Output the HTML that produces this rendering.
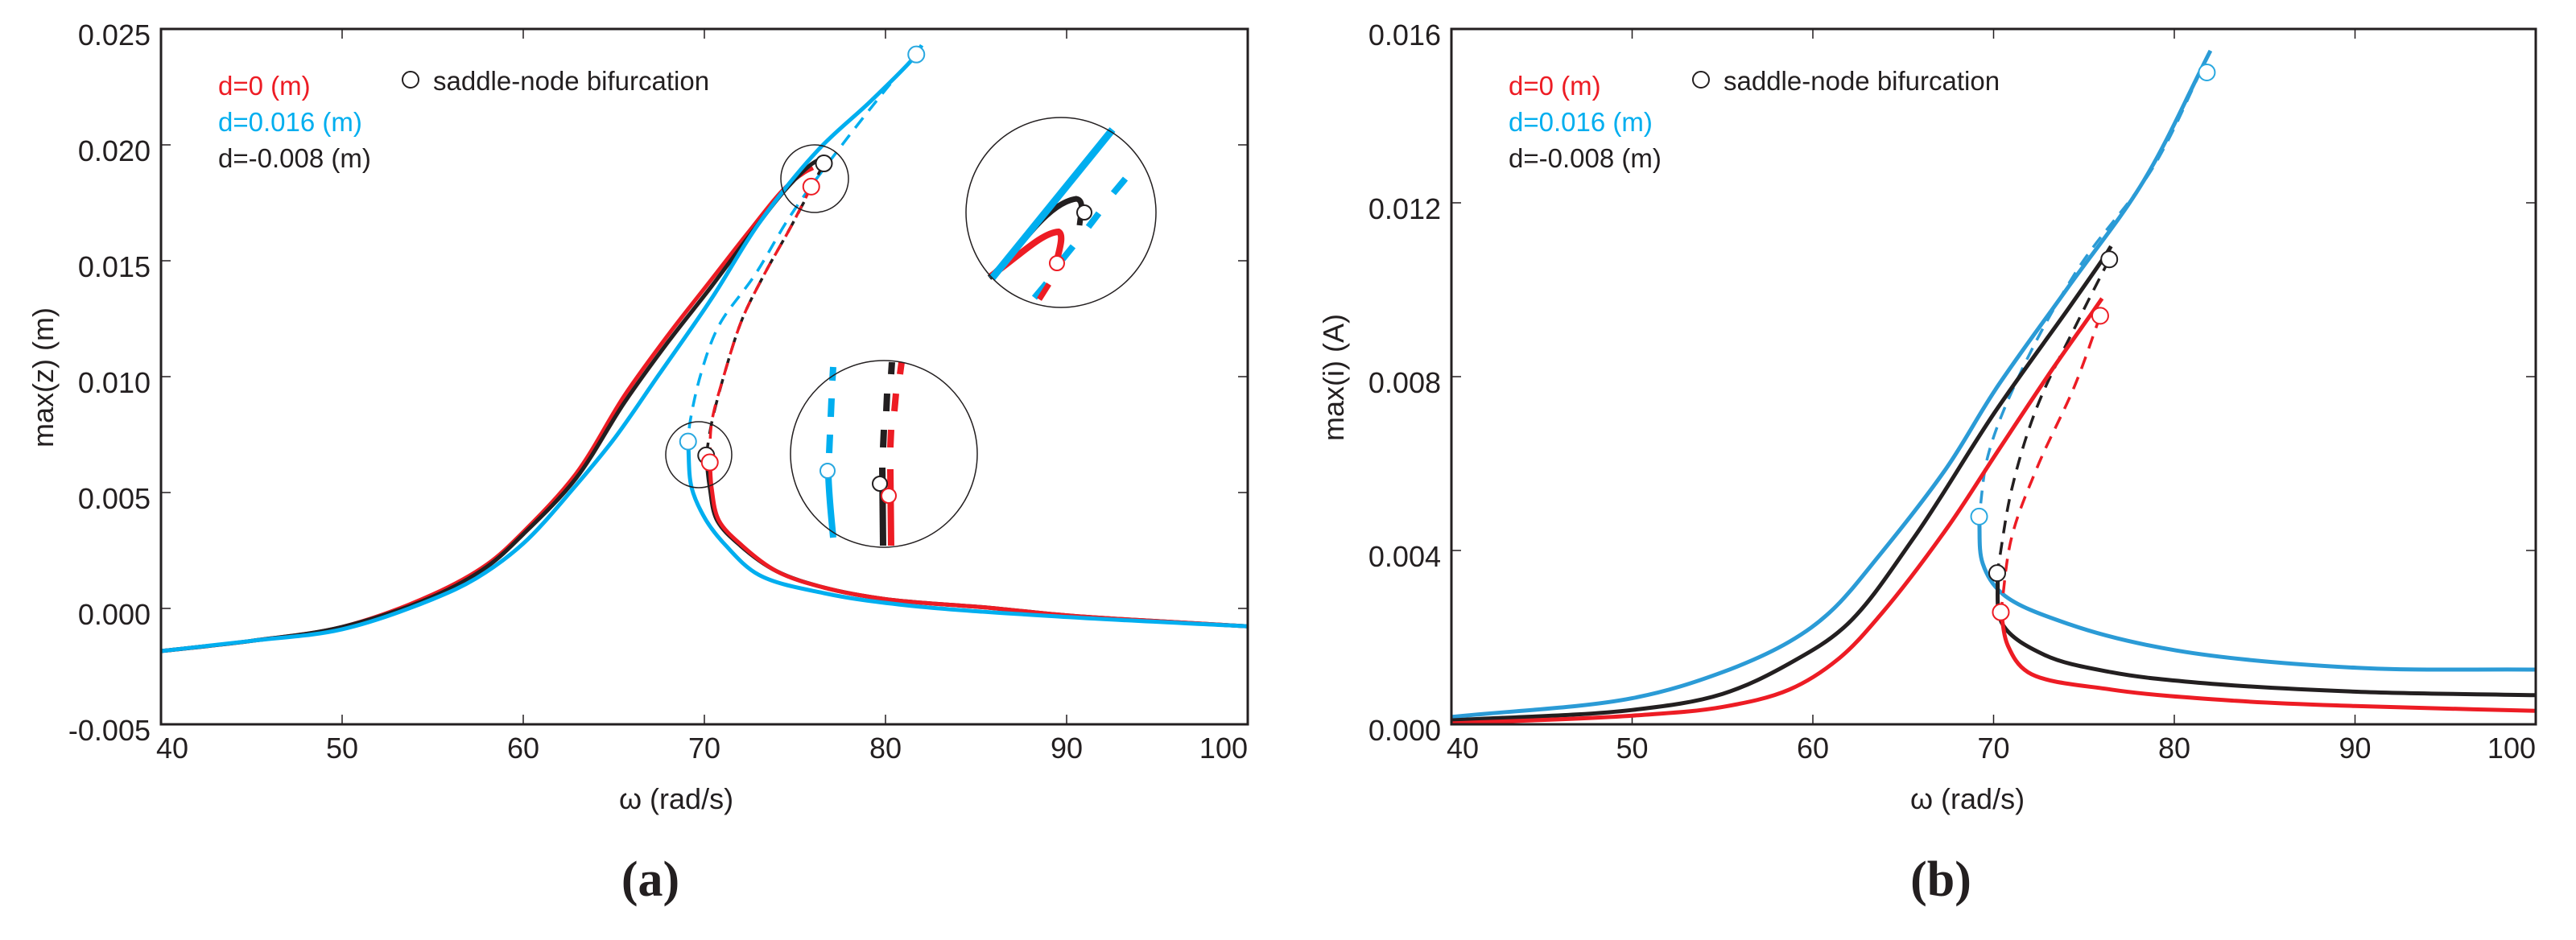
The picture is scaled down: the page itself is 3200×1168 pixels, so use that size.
<!DOCTYPE html>
<html><head><meta charset="utf-8"><style>
html,body{margin:0;padding:0;background:#fff;}
svg{display:block;font-family:"Liberation Sans",Arial,sans-serif;}
</style></head><body>
<svg id="fig" width="3200" height="1168" viewBox="0 0 3200 1168"></svg>
<script>
// ===== Panel (a) data: max(z) (m) vs omega =====
const aTicksX = [40,50,60,70,80,90,100];
const aTicksY = [-0.005,0.000,0.005,0.010,0.015,0.020,0.025];
const aTickLabelsY = ["-0.005","0.000","0.005","0.010","0.015","0.020","0.025"];
// d=0 (red)
const aRedUpX = [40,45,50,55,58,60,62.9,65.6,68,70.4,72.5,74.4,75.5,76.0];
const aRedUpY = [-0.00184,-0.0014,-0.0008,0.0006,0.0019,0.0033,0.0058,0.0092,0.0118,0.0142,0.0163,0.0181,0.0188,0.0190];
const aRedDashX = [75.9,74.8,73.3,72.1,71.1,70.4,70.3];
const aRedDashY = [0.0182,0.0165,0.0144,0.0125,0.0101,0.0080,0.0063];
const aRedLowX = [70.3,70.4,70.8,72.1,74,76.6,80,85.7,90,95,100];
const aRedLowY = [0.0063,0.0052,0.0038,0.0027,0.0016,0.0009,0.0004,0.00003,-0.0003,-0.00055,-0.00077];
// d=0.016 (blue)
const aBlueUpX = [40,45,50,55,57.4,60,62.9,65,67.5,70.4,73,76.3,79.2,81.6,82.0];
const aBlueUpY = [-0.00184,-0.0014,-0.0009,0.0004,0.0013,0.0028,0.0053,0.0073,0.0101,0.01337,0.0166,0.0198,0.0219,0.0238,0.0243];
const aBlueDashX = [81.9,81.0,77.8,74.8,72.8,70.8,69.8,69.2,69.1];
const aBlueDashY = [0.0240,0.0233,0.0202,0.0170,0.0144,0.0122,0.0101,0.0080,0.0072];
const aBlueLowX = [69.1,69.3,70.1,71.2,73,76.6,81.1,90.2,100];
const aBlueLowY = [0.0072,0.0052,0.0038,0.0027,0.00145,0.00066,0.00014,-0.00038,-0.00077];
// d=-0.008 (black)
const aBlackUpX = [40,45,50,55,58,60,62.9,65.6,68,70.4,72.5,74.4,75.8,76.4];
const aBlackUpY = [-0.00184,-0.0014,-0.0008,0.0005,0.0018,0.0032,0.0056,0.0089,0.0115,0.0139,0.0161,0.0180,0.0191,0.0194];
const aBlackDashX = [76.6,74.8,73.3,72.1,71.1,70.4,70.1];
const aBlackDashY = [0.0192,0.0165,0.0144,0.0125,0.0101,0.0080,0.0066];
const aBlackLowX = [70.1,70.3,70.7,72.0,74,76.6,80,85.7,90,95,100];
const aBlackLowY = [0.0066,0.0052,0.0038,0.0027,0.0016,0.0009,0.0004,0.00003,-0.0003,-0.00055,-0.00077];
const aBifX = [75.9,76.6,81.7,69.1,70.1,70.3];
const aBifY = [0.0182,0.0192,0.0239,0.0072,0.0066,0.0063];
const aBifC = ["#ed1c24","#231f20","#29a8e0","#29a8e0","#231f20","#ed1c24"];

// ===== Panel (b) data: max(i) (A) vs omega =====
const bTicksX = [40,50,60,70,80,90,100];
const bTicksY = [0.000,0.004,0.008,0.012,0.016];
const bTickLabelsY = ["0.000","0.004","0.008","0.012","0.016"];
const bRedUpX = [40,50,55,58.7,61.4,63.7,67.4,70.1,73.3,75.5,76.0];
const bRedUpY = [0.00002,0.0002,0.0004,0.0008,0.0015,0.0025,0.0045,0.0062,0.0082,0.0095,0.0098];
const bRedDashX = [75.9,74.5,72.4,71.0,70.4];
const bRedDashY = [0.0094,0.0078,0.0059,0.0043,0.00258];
const bRedLowX = [70.4,70.8,71.9,76.5,83.4,90,100];
const bRedLowY = [0.00258,0.0018,0.0012,0.0008,0.00054,0.00042,0.00031];
const bBlueUpX = [40,50,55,58.7,61,63.7,67.4,70.1,74.2,78.3,82.0];
const bBlueUpY = [0.00017,0.0006,0.0012,0.0019,0.0026,0.0039,0.0059,0.0077,0.0101,0.0125,0.0155];
const bBlueDashX = [82.0,78.8,74.7,71.5,69.7,69.2];
const bBlueDashY = [0.0155,0.0128,0.0105,0.0081,0.0062,0.00478];
const bBlueLowX = [69.2,69.4,70.5,74.2,80.1,90.1,100];
const bBlueLowY = [0.00478,0.0037,0.0030,0.0023,0.0017,0.0013,0.00126];
const bBlackUpX = [40,50,55,58.7,61.9,65.6,70.1,74.2,76.2,76.5];
const bBlackUpY = [0.00009,0.00033,0.0007,0.0014,0.0023,0.0043,0.0072,0.0096,0.0108,0.0110];
const bBlackDashX = [76.4,74.7,72.4,71.0,70.2];
const bBlackDashY = [0.0107,0.0093,0.0073,0.0054,0.00348];
const bBlackLowX = [70.2,70.5,72.8,76.5,81,90.1,100];
const bBlackLowY = [0.00348,0.0023,0.0016,0.0012,0.00097,0.00075,0.00067];
const bBifX = [75.9,76.4,81.8,69.2,70.2,70.4];
const bBifY = [0.0094,0.0107,0.0150,0.00478,0.00348,0.00258];
const bBifC = ["#ed1c24","#231f20","#29a8e0","#29a8e0","#231f20","#ed1c24"];

const NS="http://www.w3.org/2000/svg";
const svg=document.getElementById('fig');
function mk(tag,attrs,parent){const e=document.createElementNS(NS,tag);for(const k in attrs)e.setAttribute(k,attrs[k]);(parent||svg).appendChild(e);return e;}
// centripetal Catmull-Rom -> cubic Bezier
function smooth(pts){
  if(pts.length<2)return '';
  const f=n=>n.toFixed(1);
  let d='M'+f(pts[0][0])+','+f(pts[0][1]);
  const dist=(a,b)=>Math.max(1e-3,Math.pow(Math.hypot(b[0]-a[0],b[1]-a[1]),0.5));
  for(let i=0;i<pts.length-1;i++){
    const p1=pts[i],p2=pts[i+1];
    const p0=pts[i-1]||[2*p1[0]-p2[0],2*p1[1]-p2[1]];
    const p3=pts[i+2]||[2*p2[0]-p1[0],2*p2[1]-p1[1]];
    const d1=dist(p0,p1),d2=dist(p1,p2),d3=dist(p2,p3);
    const c1=[],c2=[];
    for(let k=0;k<2;k++){
      const m1=(p1[k]-p0[k])/d1-(p2[k]-p0[k])/(d1+d2)+(p2[k]-p1[k])/d2;
      const m2=(p2[k]-p1[k])/d2-(p3[k]-p1[k])/(d2+d3)+(p3[k]-p2[k])/d3;
      c1[k]=p1[k]+m1*d2/3;
      c2[k]=p2[k]-m2*d2/3;
    }
    d+='C'+f(c1[0])+','+f(c1[1])+' '+f(c2[0])+','+f(c2[1])+' '+f(p2[0])+','+f(p2[1]);
  }
  return d;
}
function panel(cfg){
  const g=mk('g',{});
  
  
  const X=v=>cfg.x0+(v-40)/60*(cfg.x1-cfg.x0);
  const Y=v=>cfg.y1-(v-cfg.ymin)/(cfg.ymax-cfg.ymin)*(cfg.y1-cfg.y0);
  cfg.tx.forEach((t,i)=>{
    const x=X(t);
    const tk=mk('path',{d:`M${x},${cfg.y1}v-12M${x},${cfg.y0}v12`,stroke:'#231f20','stroke-width':1.5},g);
    
    
    let anchor='middle',xx=x;
    if(i===0){anchor='start';xx=x-6;} if(i===cfg.tx.length-1){anchor='end';xx=x;}
    const lb=mk('text',{x:xx,y:942,'font-size':36,'text-anchor':anchor,fill:'#231f20'},g);
    lb.textContent=String(t);
    
    
  });
  cfg.ty.forEach((t,i)=>{
    const y=Y(t);
    const tk=mk('path',{d:`M${cfg.x0},${y}h12M${cfg.x1},${y}h-12`,stroke:'#231f20','stroke-width':1.5},g);
    
    
    const lb=mk('text',{x:cfg.x0-13,y:y+20,'font-size':36,'text-anchor':'end',fill:'#231f20'},g);
    lb.textContent=cfg.tyl[i];
    
    
  });
  cfg.series.forEach(s=>{
    const pts=s.x.map((v,i)=>[X(v),Y(s.y[i])]);
    const p=mk('path',{d:smooth(pts),fill:'none',stroke:s.c,'stroke-width':s.dash?3.5:5,'stroke-dasharray':s.dash?'16 11':'none','stroke-linecap':'butt','stroke-linejoin':'round'},g);
    
    
  });
  cfg.bx.forEach((v,i)=>{
    const c=mk('ellipse',{cx:X(v),cy:Y(cfg.by[i]),rx:10,ry:10,fill:'#fff',stroke:cfg.bc[i],'stroke-width':2},g);
    
    
  });
  const fr=mk('rect',{x:cfg.x0,y:cfg.y0,width:cfg.x1-cfg.x0,height:cfg.y1-cfg.y0,fill:'none',stroke:'#231f20','stroke-width':3},g);
  
  
  const lg=mk('g',{},g);
  
  
  [['d=0 (m)','#ed1c24'],['d=0.016 (m)','#00aeef'],['d=-0.008 (m)','#231f20']].forEach((e,i)=>{
    const t=mk('text',{x:cfg.x0+71,y:118+45*i,'font-size':33,fill:e[1]},lg);
    t.textContent=e[0];
    
    
  });
  const lc=mk('circle',{cx:cfg.x0+310,cy:99,r:10,fill:'#fff',stroke:'#231f20','stroke-width':2},lg);
  
  
  const lt=mk('text',{x:cfg.x0+338,y:112,'font-size':33,fill:'#231f20'},lg);
  lt.textContent='saddle-node bifurcation';
  
  
  const xt=mk('text',{x:cfg.xlx,y:1005,'font-size':36,'text-anchor':'middle',fill:'#231f20'},g);
  xt.textContent='\u03c9  (rad/s)';
  
  
  const yt=mk('text',{x:0,y:0,'font-size':36,'text-anchor':'middle',fill:'#231f20',transform:`translate(${cfg.ylx},469) rotate(-90)`},g);
  yt.textContent=cfg.ylabel;
  
  
  const pl=mk('text',{x:cfg.plx,y:1113,'font-size':62,'font-weight':'bold','text-anchor':'middle',fill:'#231f20','font-family':'"Liberation Serif",serif'},g);
  pl.textContent=cfg.plabel;
  
  
  return {g,X,Y};
}
const RED='#ed1c24',BLK='#231f20';
const A=panel({name:'panel-a',x0:200,x1:1550,y0:36,y1:900,ymin:-0.005,ymax:0.025,
  tx:aTicksX,ty:aTicksY,tyl:aTickLabelsY,xlx:840,ylx:66,plx:808,ylabel:'max(z)  (m)',plabel:'(a)',
  series:[
    {n:'red-stable-upper',x:aRedUpX,y:aRedUpY,c:RED},
    {n:'black-stable-upper',x:aBlackUpX,y:aBlackUpY,c:BLK},
    {n:'blue-stable-upper',x:aBlueUpX,y:aBlueUpY,c:'#00aeef'},
    {n:'blue-unstable',x:aBlueDashX,y:aBlueDashY,c:'#00aeef',dash:1},
    {n:'black-unstable',x:aBlackDashX,y:aBlackDashY,c:BLK,dash:1},
    {n:'red-unstable',x:aRedDashX,y:aRedDashY,c:RED,dash:1},
    {n:'black-stable-lower',x:aBlackLowX,y:aBlackLowY,c:BLK},
    {n:'red-stable-lower',x:aRedLowX,y:aRedLowY,c:RED},
    {n:'blue-stable-lower',x:aBlueLowX,y:aBlueLowY,c:'#00aeef'}],
  bx:aBifX,by:aBifY,bc:aBifC});
const B=panel({name:'panel-b',x0:1803,x1:3150,y0:36,y1:900,ymin:0,ymax:0.016,
  tx:bTicksX,ty:bTicksY,tyl:bTickLabelsY,xlx:2444,ylx:1669,plx:2411,ylabel:'max(i)  (A)',plabel:'(b)',
  series:[
    {n:'blue-stable-upper',x:bBlueUpX,y:bBlueUpY,c:'#2b9bd6'},
    {n:'blue-unstable',x:bBlueDashX,y:bBlueDashY,c:'#2b9bd6',dash:1},
    {n:'blue-stable-lower',x:bBlueLowX,y:bBlueLowY,c:'#2b9bd6'},
    {n:'black-stable-upper',x:bBlackUpX,y:bBlackUpY,c:BLK},
    {n:'black-unstable',x:bBlackDashX,y:bBlackDashY,c:BLK,dash:1},
    {n:'black-stable-lower',x:bBlackLowX,y:bBlackLowY,c:BLK},
    {n:'red-stable-upper',x:bRedUpX,y:bRedUpY,c:RED},
    {n:'red-unstable',x:bRedDashX,y:bRedDashY,c:RED,dash:1},
    {n:'red-stable-lower',x:bRedLowX,y:bRedLowY,c:RED}],
  bx:bBifX,by:bBifY,bc:bBifC});

// ===== Zoom highlight circles and magnified insets in panel (a) =====
const zg=mk('g',{});


const h1=mk('circle',{cx:1012,cy:222,r:42,fill:'none',stroke:BLK,'stroke-width':1.5},zg);


const h2=mk('circle',{cx:868,cy:565,r:41,fill:'none',stroke:BLK,'stroke-width':1.5},zg);


const i1=mk('g',{},zg);


mk('path',{d:'M1229,345 C1262,318 1297,253 1337,247 1347,249 1343,262 1341,280',fill:'none',stroke:BLK,'stroke-width':7},i1);
mk('path',{d:'M1231,343 C1268,316 1295,289 1315,288 1322,292 1316,310 1313,323',fill:'none',stroke:RED,'stroke-width':8},i1);
mk('path',{d:'M1232,346 L1382,161',fill:'none',stroke:'#00aeef','stroke-width':9},i1);
mk('path',{d:'M1285,370 L1300,352 M1320,322 L1333,306 M1352,282 L1365,265 M1383,240 L1398,222',fill:'none',stroke:'#00aeef','stroke-width':8},i1);
mk('path',{d:'M1291,372 L1303,353',fill:'none',stroke:RED,'stroke-width':7},i1);
mk('circle',{cx:1347,cy:264,r:9,fill:'#fff',stroke:BLK,'stroke-width':2},i1);
mk('circle',{cx:1313,cy:327,r:9,fill:'#fff',stroke:RED,'stroke-width':2},i1);
const c1=mk('circle',{cx:1318,cy:264,r:118,fill:'none',stroke:BLK,'stroke-width':1.5},i1);


const i2=mk('g',{},zg);


mk('path',{d:'M1035,456 L1034,473 M1033,495 L1032,518 M1031,540 L1030,563',fill:'none',stroke:'#00aeef','stroke-width':8},i2);
mk('path',{d:'M1029,590 C1030,620 1033,645 1035,668',fill:'none',stroke:'#00aeef','stroke-width':8},i2);
mk('path',{d:'M1108,450 L1107,465 M1102,489 L1101,511 M1098,534 L1097,556',fill:'none',stroke:BLK,'stroke-width':8},i2);
mk('path',{d:'M1120,450 L1118,465 M1113,489 L1111,511 M1107,534 L1106,556',fill:'none',stroke:RED,'stroke-width':8},i2);
mk('path',{d:'M1106,583 L1107,678',fill:'none',stroke:RED,'stroke-width':8},i2);
mk('path',{d:'M1096,581 L1097,678',fill:'none',stroke:BLK,'stroke-width':8},i2);
mk('circle',{cx:1028,cy:585,r:9,fill:'#fff',stroke:'#29a8e0','stroke-width':2},i2);
mk('circle',{cx:1093,cy:601,r:9,fill:'#fff',stroke:BLK,'stroke-width':2},i2);
mk('circle',{cx:1104,cy:616,r:9,fill:'#fff',stroke:RED,'stroke-width':2},i2);
const c2=mk('circle',{cx:1098,cy:564,r:116,fill:'none',stroke:BLK,'stroke-width':1.5},i2);


</script>
</body></html>
